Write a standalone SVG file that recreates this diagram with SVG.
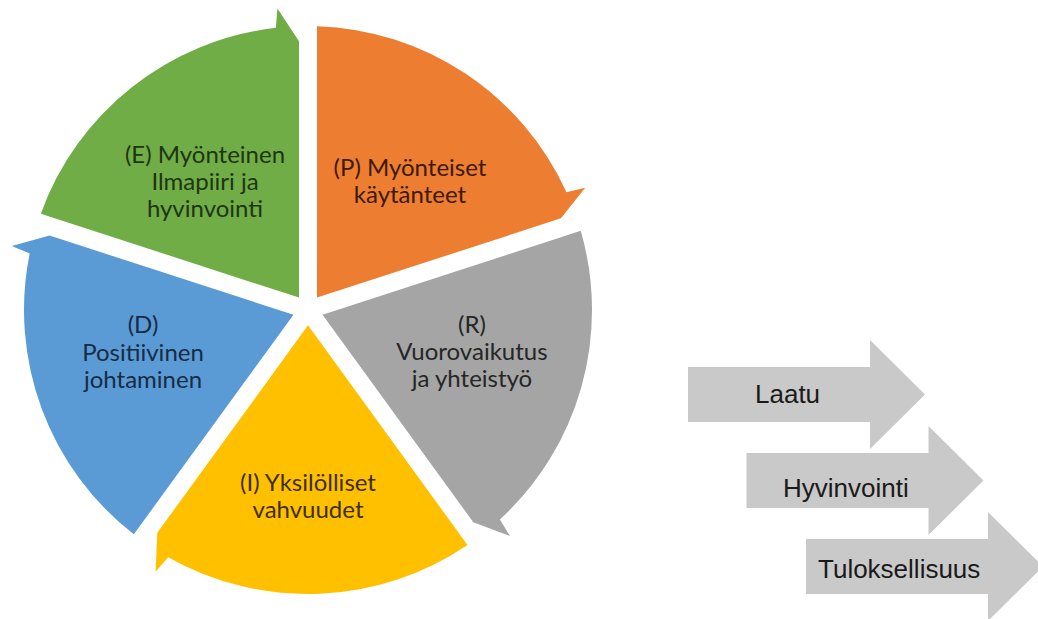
<svg xmlns="http://www.w3.org/2000/svg" width="1038" height="619" viewBox="0 0 1038 619">
<style>
.lbl{font-family:Lato,"Open Sans","Noto Sans",sans-serif;font-size:24px;text-anchor:middle}
.arr{fill:#C9C9C9}
.atx{font-family:"Liberation Sans",Arial,sans-serif;font-size:26px;fill:#1a1a1a}
</style>
<rect width="1038" height="619" fill="#ffffff"/>
<g id="seg-P">
<path d="M316.99,297.62 L317.02,26.14 A284,284 0 0 1 566.44,192.23 L585.23,187.72 L560.90,218.36 Z" fill="#ED7D31"/>
<text class="lbl" fill="#3C1A05"><tspan x="410" y="176">(P) Myönteiset</tspan><tspan x="410" y="203">käytänteet</tspan></text>
</g>
<g id="seg-R">
<path d="M322.55,314.73 L580.75,230.86 A284,284 0 0 1 499.87,519.39 L509.96,535.88 L473.30,522.22 Z" fill="#A5A5A5"/>
<text class="lbl" fill="#262626"><tspan x="472" y="333">(R)</tspan><tspan x="472" y="360">Vuorovaikutus</tspan><tspan x="472" y="387">ja yhteistyö</tspan></text>
</g>
<g id="seg-I">
<path d="M308,325.3 L467.49,544.98 A284,284 0 0 1 168.15,557.18 L155.58,571.87 L157.27,532.81 Z" fill="#FFC000"/>
<text class="lbl" fill="#3F2E00"><tspan x="308" y="491">(I) Yksilölliset</tspan><tspan x="308" y="518">vahvuudet</tspan></text>
</g>
<g id="seg-D">
<path d="M293.45,314.73 L133.81,534.31 A284,284 0 0 1 29.70,253.38 L11.84,245.97 L49.52,235.50 Z" fill="#5B9BD5"/>
<text class="lbl" fill="#172B45"><tspan x="143" y="333">(D)</tspan><tspan x="143" y="361">Positiivinen</tspan><tspan x="143" y="388">johtaminen</tspan></text>
</g>
<g id="seg-E">
<path d="M299.01,297.62 L40.83,213.71 A284,284 0 0 1 275.85,27.83 L277.38,8.55 L298.99,41.15 Z" fill="#70AD47"/>
<text class="lbl" fill="#1E3512"><tspan x="205" y="163">(E) Myönteinen</tspan><tspan x="205" y="190">Ilmapiiri ja</tspan><tspan x="205" y="217">hyvinvointi</tspan></text>
</g>
<g id="arrow-laatu">
<path class="arr" d="M688,367 L870,367 L870,340 L925,394.5 L870,449 L870,422 L688,422 Z"/>
<text class="atx" x="755" y="403">Laatu</text>
</g>
<g id="arrow-hyvinvointi">
<path class="arr" d="M746.5,453 L928.5,453 L928.5,426 L983.5,480.5 L928.5,535 L928.5,508 L746.5,508 Z"/>
<text class="atx" x="783" y="497">Hyvinvointi</text>
</g>
<g id="arrow-tuloksellisuus">
<path class="arr" d="M806,539 L988,539 L988,512 L1043,566.5 L988,621 L988,594 L806,594 Z"/>
<text class="atx" x="818" y="578">Tuloksellisuus</text>
</g>
<g id="connectors"></g>
</svg>
